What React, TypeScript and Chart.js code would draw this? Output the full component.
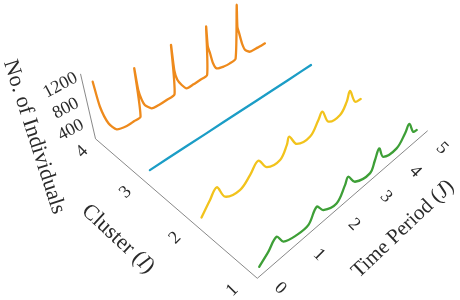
import React, { useEffect, useRef } from "react";
import { Chart, registerables } from "chart.js";

Chart.register(...registerables);

// ---------- data ----------
const timeTicks = [0, 1, 2, 3, 4, 5];
const clusterTicks = [1, 2, 3, 4];
const countTicks = [400, 800, 1200];

const timeMax = 5.34;
const clusterMax = 4.29;
const countMax = 1200;

// cluster 1 (green)
const c1Time = [0.03, 0.24, 0.42, 0.62, 0.98, 1.3, 1.47, 1.7, 2.12, 2.29, 2.34, 2.63, 3.15, 3.22, 3.27, 3.53, 4.03, 4.22, 4.29, 4.59, 4.74];
const c1Count = [220, 378, 544, 320, 214, 217, 470, 268, 155, 423, 550, 301, 192, 417, 610, 325, 249, 454, 596, 314, 283];

// cluster 2 (yellow)
const c2Time = [0.05, 0.27, 0.44, 0.64, 1.03, 1.3, 1.51, 1.77, 2.16, 2.33, 2.38, 2.65, 3.08, 3.29, 3.39, 3.67, 4.08, 4.25, 4.3, 4.59, 4.81];
const c2Count = [204, 417, 562, 271, 185, 338, 501, 247, 194, 405, 536, 273, 220, 450, 564, 254, 210, 400, 583, 263, 228];

// cluster 3 (teal)
const c3Time = [0.04, 0.5, 1.0, 1.5, 2.0, 2.5, 3.0, 3.5, 4.0, 4.5, 4.82];
const c3Count = [301, 304, 308, 308, 314, 317, 318, 323, 325, 331, 333];

// cluster 4 (orange)
const c4Time = [0, 0.04, 0.15, 0.31, 0.56, 0.75, 0.93, 0.95, 0.97, 1.02, 1.08, 1.24, 1.45, 1.66, 1.89, 1.91, 1.94, 2.0, 2.11, 2.24, 2.45, 2.65, 2.87, 2.89, 2.92, 2.98, 3.06, 3.17, 3.4, 3.6, 3.79, 3.81, 3.84, 3.9, 4.0, 4.11, 4.28, 4.55, 4.81];
const c4Count = [1232, 788, 437, 250, 205, 215, 228, 1108, 719, 520, 394, 265, 250, 258, 282, 1177, 718, 520, 378, 262, 262, 274, 292, 1181, 820, 673, 460, 315, 270, 263, 294, 1283, 880, 746, 520, 358, 265, 258, 260];

// ---------- camera (perspective view of the 3-D box) ----------
const ORIGIN = [257.3, 278.3];
const VP_TIME = [1052, -410];
const VP_CLUSTER = [-541, -410];
const VP_COUNT = [230, 721];
const K_TIME = 0.0511;
const K_CLUSTER = 0.07725;
const K_COUNT = -1.049e-4;

function project(t: number, c: number, v: number): [number, number] {
  const cp = c - 1;
  const hx = ORIGIN[0] + K_TIME * t * VP_TIME[0] + K_CLUSTER * cp * VP_CLUSTER[0] + K_COUNT * v * VP_COUNT[0];
  const hy = ORIGIN[1] + K_TIME * t * VP_TIME[1] + K_CLUSTER * cp * VP_CLUSTER[1] + K_COUNT * v * VP_COUNT[1];
  const hw = 1 + K_TIME * t + K_CLUSTER * cp + K_COUNT * v;
  return [hx / hw, hy / hw];
}

const W = 460;
const H = 300;
const TEXT = "#2b2b2b";
const AXIS = "#7a7a7a";
const SERIF = '"Liberation Serif", "Times New Roman", serif';

type Part = { text: string; italic?: boolean };

function drawRich(ctx: CanvasRenderingContext2D, parts: Part[], x: number, y: number, angle: number, size: number) {
  ctx.save();
  ctx.translate(x, y);
  ctx.rotate(angle);
  ctx.textBaseline = "middle";
  ctx.textAlign = "left";
  ctx.fillStyle = TEXT;
  let total = 0;
  const widths = parts.map((p) => {
    ctx.font = `${p.italic ? "italic " : ""}${size}px ${SERIF}`;
    const w = ctx.measureText(p.text).width;
    total += w;
    return w;
  });
  let cur = -total / 2;
  parts.forEach((p, i) => {
    ctx.font = `${p.italic ? "italic " : ""}${size}px ${SERIF}`;
    ctx.fillText(p.text, cur, 0);
    cur += widths[i];
  });
  ctx.restore();
}

const deg = (d: number) => (d * Math.PI) / 180;

const axesPlugin = {
  id: "box3d",
  beforeDatasetsDraw(chart: any) {
    const ctx: CanvasRenderingContext2D = chart.ctx;
    const sx = chart.scales.x;
    const sy = chart.scales.y;
    const px = (t: number, c: number, v: number): [number, number] => {
      const p = project(t, c, v);
      return [sx.getPixelForValue(p[0]), sy.getPixelForValue(p[1])];
    };
    ctx.save();
    ctx.strokeStyle = AXIS;
    ctx.lineWidth = 0.9;
    const seg = (a: [number, number], b: [number, number]) => {
      ctx.beginPath();
      ctx.moveTo(a[0], a[1]);
      ctx.lineTo(b[0], b[1]);
      ctx.stroke();
    };
    seg(px(0, 1, 0), px(timeMax, 1, 0));
    seg(px(0, 1, 0), px(0, clusterMax, 0));
    seg(px(0, clusterMax, 0), px(0, clusterMax, countMax));
    ctx.restore();

    timeTicks.forEach((t) => {
      const p = px(t, 1, 0);
      drawRich(ctx, [{ text: String(t) }], p[0] + 23, p[1] + 10, deg(45), 18);
    });
    clusterTicks.forEach((c) => {
      const p = px(0, c, 0);
      drawRich(ctx, [{ text: String(c) }], p[0] - 25, p[1] + 12 - 3 * (c - 1), deg(-45), 18);
    });
    countTicks.forEach((v) => {
      const p = px(0, clusterMax, v);
      drawRich(ctx, [{ text: String(v) }], p[0] - 20, p[1] + 11.5, deg(-28), 18);
    });

    drawRich(ctx, [{ text: "No. of Individuals" }], 34, 137, deg(72), 22);
    drawRich(ctx, [{ text: "Cluster (" }, { text: "I", italic: true }, { text: ")" }], 118, 239, deg(43), 22);
    drawRich(ctx, [{ text: "Time Period (" }, { text: "J", italic: true }, { text: ")" }], 403, 229, deg(-43.5), 21);
  },
};

function series(times: number[], counts: number[], cluster: number) {
  return times.map((t, i) => {
    const p = project(t, cluster, counts[i]);
    return { x: p[0], y: p[1] };
  });
}

export default function App() {
  const ref = useRef<HTMLCanvasElement>(null);
  useEffect(() => {
    if (!ref.current) return;
    const common = {
      showLine: true,
      pointRadius: 0,
      borderWidth: 2.3,
      borderJoinStyle: "round" as const,
      borderCapStyle: "round" as const,
      clip: false as const,
    };
    const chart = new Chart(ref.current, {
      type: "scatter",
      data: {
        datasets: [
          { ...common, tension: 0.22, label: "Cluster 4", data: series(c4Time, c4Count, 4), borderColor: "#EE8A1C", backgroundColor: "#EE8A1C" },
          { ...common, tension: 0, label: "Cluster 3", data: series(c3Time, c3Count, 3), borderColor: "#1B9DC6", backgroundColor: "#1B9DC6" },
          { ...common, tension: 0.35, label: "Cluster 2", data: series(c2Time, c2Count, 2), borderColor: "#F2C31C", backgroundColor: "#F2C31C" },
          { ...common, tension: 0.35, label: "Cluster 1", data: series(c1Time, c1Count, 1), borderColor: "#3E9F37", backgroundColor: "#3E9F37" },
        ],
      },
      options: {
        animation: false,
        responsive: false,
        maintainAspectRatio: false,
        layout: { padding: 0 },
        plugins: { legend: { display: false }, tooltip: { enabled: false } },
        scales: {
          x: { type: "linear", min: 0, max: W, display: false },
          y: { type: "linear", min: 0, max: H, reverse: true, display: false },
        },
      },
      plugins: [axesPlugin],
    });
    return () => chart.destroy();
  }, []);
  return (
    <div style={{ position: "absolute", left: 0, top: 0, width: W, height: H, background: "#fff" }}>
      <canvas ref={ref} width={W} height={H} style={{ width: W, height: H, display: "block" }} />
    </div>
  );
}
